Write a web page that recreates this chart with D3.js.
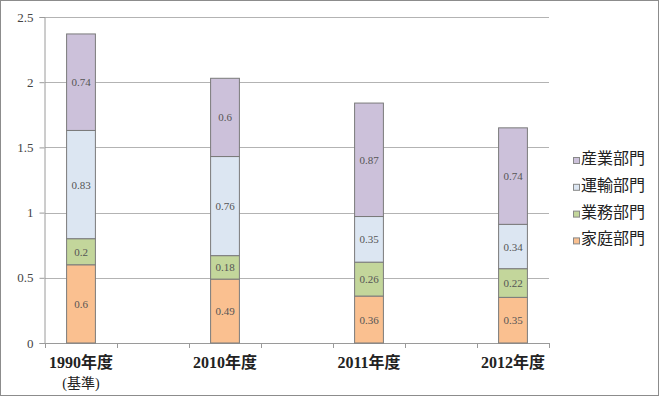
<!DOCTYPE html>
<html>
<head>
<meta charset="utf-8">
<script src="https://cdn.jsdelivr.net/npm/d3@7"></script>
<style>
  html, body { margin: 0; padding: 0; background: #fff; }
  svg { display: block; }
</style>
</head>
<body>
<svg id="chart" width="659" height="396"></svg>
<script>
// 7 slots: Excel-style spacing, empty slots between the years
const slots = ["1990年度", "s1", "2010年度", "s2", "2011年度", "s3", "2012年度"];
const years = ["1990年度", "2010年度", "2011年度", "2012年度"];
const subLabels = ["(基準)", "", "", ""];

const seriesNames = ["家庭部門", "業務部門", "運輸部門", "産業部門"];
const katei  = [0.6, 0.49, 0.36, 0.35];
const gyomu  = [0.2, 0.18, 0.26, 0.22];
const unyu   = [0.83, 0.76, 0.35, 0.34];
const sangyo = [0.74, 0.6, 0.87, 0.74];
const colors = ["#FAC090", "#C3D69B", "#DCE6F2", "#CCC1DA"];

const yTicks = [0, 0.5, 1, 1.5, 2, 2.5];

const W = 659, H = 396;
const X0 = 45, X1 = 549, Y0 = 343, Y1 = 17;
const SERIF = "'Liberation Serif', 'DejaVu Serif', 'Noto Sans CJK JP', serif";

const svg = d3.select("#chart");

// frame
svg.append("rect").attr("x", 0.5).attr("y", 0.5).attr("width", W - 1).attr("height", H - 1)
  .attr("fill", "none").attr("stroke", "#8c8c8c");

const x = d3.scaleBand().domain(slots).range([X0, X1]).padding(0);
const y = d3.scaleLinear().domain([0, 2.5]).range([Y0, Y1]);

// gridlines
svg.append("g").selectAll("line").data(yTicks.slice(1)).join("line")
  .attr("x1", X0).attr("x2", X1)
  .attr("y1", d => Math.round(y(d)) + 0.5).attr("y2", d => Math.round(y(d)) + 0.5)
  .attr("stroke", "#b3b3b3");

// y axis
const yAxis = svg.append("g").attr("transform", `translate(${X0 - 0.5},0)`)
  .call(d3.axisLeft(y).tickValues(yTicks).tickSize(5).tickPadding(6).tickFormat(d => String(d)));
yAxis.select(".domain").attr("stroke", "#9a9a9a");
yAxis.selectAll(".tick line").attr("stroke", "#9a9a9a");
yAxis.selectAll(".tick text").attr("font-family", SERIF).attr("font-size", "13px").attr("fill", "#444");

// x axis line + ticks at slot boundaries
svg.append("line").attr("x1", X0).attr("x2", X1).attr("y1", Y0 + 0.5).attr("y2", Y0 + 0.5)
  .attr("stroke", "#9a9a9a");
const bounds = slots.map(s => x(s)).concat([x(slots[slots.length - 1]) + x.bandwidth()]);
svg.append("g").selectAll("line").data(bounds).join("line")
  .attr("x1", d => Math.round(d) + 0.5).attr("x2", d => Math.round(d) + 0.5)
  .attr("y1", Y0).attr("y2", Y0 + 5).attr("stroke", "#9a9a9a");

// stacked bars
const rows = years.map((yr, i) => ({ year: yr, 家庭部門: katei[i], 業務部門: gyomu[i], 運輸部門: unyu[i], 産業部門: sangyo[i] }));
const stack = d3.stack().keys(seriesNames)(rows);
const bw = x.bandwidth() * 0.4;

stack.forEach((layer, si) => {
  const g = svg.append("g");
  g.selectAll("rect").data(layer).join("rect")
    .attr("x", d => x(d.data.year) + (x.bandwidth() - bw) / 2)
    .attr("y", d => y(d[1]))
    .attr("width", bw)
    .attr("height", d => y(d[0]) - y(d[1]))
    .attr("fill", colors[si])
    .attr("stroke", "#7a7a7a").attr("stroke-width", 1);
  g.selectAll("text").data(layer).join("text")
    .attr("x", d => x(d.data.year) + x.bandwidth() / 2)
    .attr("y", d => (y(d[0]) + y(d[1])) / 2 + 4)
    .attr("text-anchor", "middle")
    .attr("font-family", SERIF).attr("font-size", "11px").attr("fill", "#555")
    .text(d => String(d.data[seriesNames[si]]));
});

// category labels
svg.append("g").selectAll("text").data(years).join("text")
  .attr("x", d => x(d) + x.bandwidth() / 2).attr("y", 368)
  .attr("text-anchor", "middle")
  .attr("font-family", SERIF).attr("font-size", "16px").attr("font-weight", "bold").attr("fill", "#222")
  .text(d => d);
svg.append("g").selectAll("text").data(years).join("text")
  .attr("x", d => x(d) + x.bandwidth() / 2).attr("y", 388)
  .attr("text-anchor", "middle")
  .attr("font-family", SERIF).attr("font-size", "14px").attr("fill", "#222")
  .text((d, i) => subLabels[i]);

// legend (top to bottom: 産業, 運輸, 業務, 家庭)
const legendOrder = seriesNames.map((n, i) => ({ name: n, color: colors[i] })).reverse();
const leg = svg.append("g").attr("transform", "translate(573,157)");
legendOrder.forEach((d, i) => {
  const cy = i * 26.8;
  leg.append("rect").attr("x", 0.5).attr("y", cy + 0.5).attr("width", 6).attr("height", 6)
    .attr("fill", d.color).attr("stroke", "#888");
  leg.append("text").attr("x", 8).attr("y", cy + 7)
    .attr("font-family", "'Noto Sans CJK JP', sans-serif").attr("font-size", "16px").attr("fill", "#222")
    .text(d.name);
});
</script>
</body>
</html>
